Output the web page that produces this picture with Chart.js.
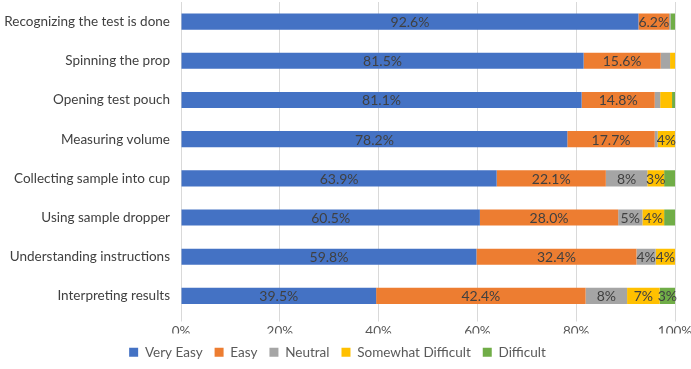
<!DOCTYPE html>
<html>
<head>
<meta charset="utf-8">
<script src="https://cdn.jsdelivr.net/npm/chart.js@4"></script>
<style>
html,body{margin:0;padding:0;background:#fff;}
#wrap{width:691px;height:369px;position:relative;}
</style>
</head>
<body>
<div id="wrap"><canvas id="c" width="691" height="369"></canvas></div>
<script>
const categories = [
  "Recognizing the test is done",
  "Spinning the prop",
  "Opening test pouch",
  "Measuring volume",
  "Collecting sample into cup",
  "Using sample dropper",
  "Understanding instructions",
  "Interpreting results"
];
const veryEasy          = [92.6, 81.5, 81.1, 78.2, 63.9, 60.5, 59.8, 39.5];
const easy              = [6.2, 15.6, 14.8, 17.7, 22.1, 28.0, 32.4, 42.4];
const neutral           = [0.3, 1.9, 1.1, 0.6, 8.4, 4.9, 3.9, 8.4];
const somewhatDifficult = [0.0, 1.0, 2.4, 3.5, 3.4, 4.4, 3.9, 6.6];
const difficult         = [0.9, 0.0, 0.6, 0.0, 2.2, 2.2, 0.0, 3.1];
const xTicks = [0, 20, 40, 60, 80, 100];

const FONT = "Lato, 'Open Sans', sans-serif";

const series = [
  {label: "Very Easy", data: veryEasy, color: "#4472C4", dec: 1},
  {label: "Easy", data: easy, color: "#ED7D31", dec: 1},
  {label: "Neutral", data: neutral, color: "#A5A5A5", dec: 0},
  {label: "Somewhat Difficult", data: somewhatDifficult, color: "#FFC000", dec: 0},
  {label: "Difficult", data: difficult, color: "#70AD47", dec: 0}
];

const labelPlugin = {
  id: 'segLabels',
  afterDatasetsDraw(chart) {
    const ctx = chart.ctx;
    ctx.save();
    ctx.font = "14px " + FONT;
    ctx.fillStyle = "#404040";
    ctx.textAlign = "center";
    ctx.textBaseline = "middle";
    chart.data.datasets.forEach((ds, i) => {
      const meta = chart.getDatasetMeta(i);
      meta.data.forEach((el, j) => {
        const v = ds.data[j];
        if (v < 2.5) return;
        const txt = v.toFixed(ds.dec) + "%";
        const cx = (el.x + el.base) / 2;
        ctx.fillText(txt, cx, el.y + 1);
      });
    });
    ctx.restore();
  }
};

new Chart(document.getElementById('c'), {
  type: 'bar',
  data: {
    labels: categories,
    datasets: series.map(s => ({
      label: s.label,
      data: s.data,
      backgroundColor: s.color,
      borderWidth: 0,
      barPercentage: 0.41,
      categoryPercentage: 1.0,
      dec: s.dec
    }))
  },
  options: {
    indexAxis: 'y',
    responsive: false,
    animation: false,
    layout: {padding: {top: 2, right: 16, left: 0, bottom: 0}},
    scales: {
      x: {
        stacked: true,
        min: 0, max: 100,
        afterBuildTicks(axis) { axis.ticks = xTicks.map(v => ({value: v})); },
        afterFit(scale) { scale.height = 18; scale.paddingLeft = 0; scale.paddingRight = 0; },
        ticks: {
          callback: v => v + "%",
          color: "#595959",
          font: {family: FONT, size: 13.5},
          padding: 2,
          maxRotation: 0
        },
        grid: {color: "#D9D9D9", lineWidth: 1, tickLength: 6, drawTicks: true},
        border: {display: false}
      },
      y: {
        stacked: true,
        afterFit(scale) { scale.width = 181; scale.paddingTop = 0; scale.paddingBottom = 0; },
        ticks: {
          color: "#404040",
          font: {family: FONT, size: 13.5},
          padding: 3
        },
        grid: {display: false},
        border: {display: false}
      }
    },
    plugins: {
      legend: {
        position: 'bottom',
        labels: {
          boxWidth: 9, boxHeight: 9,
          color: "#595959",
          font: {family: FONT, size: 13.5},
          padding: 12
        }
      },
      tooltip: {enabled: false}
    }
  },
  plugins: [labelPlugin]
});
</script>
</body>
</html>
